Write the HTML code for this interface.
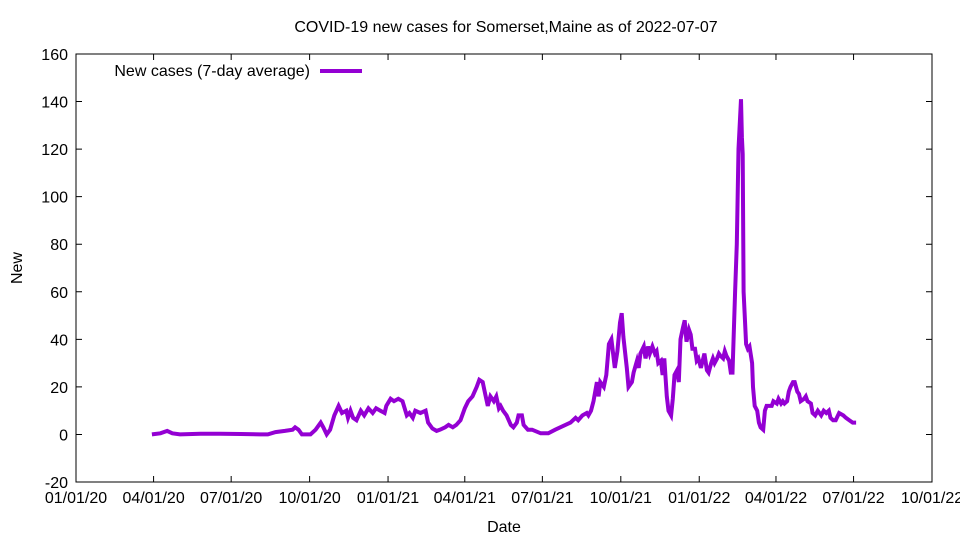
<!DOCTYPE html>
<html><head><meta charset="utf-8"><style>
body{margin:0;background:#fff}
svg{display:block;font-family:"Liberation Sans",sans-serif;font-size:16px}
</style></head><body>
<svg id="c" width="960" height="540"></svg>
<script>
const xTickLabels=["01/01/20","04/01/20","07/01/20","10/01/20","01/01/21","04/01/21","07/01/21","10/01/21","01/01/22","04/01/22","07/01/22","10/01/22"];
const xTickDays=[0,91,182,274,366,456,547,639,731,821,912,1004];
const yTicks=[-20,0,20,40,60,80,100,120,140,160];
const days=[89,99,107,113,122,146,169,193,216,225,234,245,254,257,261,265,275,281,287,290,294,298,303,308,312,317,319,322,325,329,334,338,343,348,352,357,362,364,369,373,378,383,388,391,395,398,404,410,413,418,423,427,433,437,442,446,451,456,460,465,470,473,477,480,483,486,490,493,496,498,501,505,510,513,517,519,523,525,530,535,545,554,562,568,574,580,586,589,594,599,601,604,607,611,613,615,619,622,625,628,632,635,638,640,642,646,648,652,654,658,660,662,666,668,671,673,676,679,681,683,686,688,690,693,695,698,700,702,705,707,709,712,714,716,719,721,723,726,728,730,733,735,737,740,742,745,747,749,752,754,756,759,761,763,766,768,770,773,775,777,780,781,782,783,786,788,790,793,794,796,799,801,803,806,808,810,813,816,818,822,824,827,829,831,834,836,838,841,843,846,848,850,854,856,858,862,864,867,870,874,877,880,883,885,888,891,895,900,903,907,911,915,918];
const cases=[0,0.5,1.5,0.5,0,0.3,0.3,0.2,0,0,1,1.5,2,3,2,0,0,2,5,3,0,2,8,12,9,10,7,10,7,6,10,8,11,9,11,10,9,12,15,14,15,14,8,9,7,10,9,10,5,2.5,1.5,2,3,4,3,4,6,11,14,16,20,23,22,17,12,16,14,16,11,12,10,8,4,3,5,8,8,4,2,2,0.5,0.5,2,3,4,5,7,6,8,9,8,10,14,22,16,22,20,25,38,40,28,35,47,51,41,28,20,22,26,31,28,34,37,32,37,34,37,34,35,30,31,25,32,16,10,8,15,25,27,22,40,45,48,39,44,42,36,36,31,32,28,31,34,27,26,30,32,30,32,34,33,32,35,33,31,26,26,60,80,120,141,125,118,60,38,36,37,30,20,12,10,5,3,2,10,12,12,12,14,13,15,13,14,13,14,18,20,22,22,18,17,14,15,16,14,13,9,8,10,8,10,9,10,7,6,6,9,8,7,6,5,5];
const NS="http://www.w3.org/2000/svg";
const svg=document.getElementById('c');
const L=76,R=932,T=54,B=482;
const xs=d=>L+(d/1004)*(R-L);
const ys=v=>B-(v+20)/180*(B-T);
function mk(tag,attrs,txt){const e=document.createElementNS(NS,tag);for(const k in attrs)e.setAttribute(k,attrs[k]);if(txt!=null)e.textContent=txt;svg.appendChild(e);return e;}
let e=mk('rect',{x:L,y:T,width:R-L,height:B-T,fill:'none',stroke:'#000','stroke-width':1});


yTicks.forEach(v=>{const y=ys(v);
 let t=mk('path',{d:`M${L} ${y}h6M${R} ${y}h-6`,stroke:'#000'});
 
 
 let l=mk('text',{x:L-8,y:y+6,'text-anchor':'end'},v);
 
 
});
xTickDays.forEach((d,i)=>{const x=xs(d);
 let t=mk('path',{d:`M${x} ${B}v-6M${x} ${T}v6`,stroke:'#000'});
 
 
 let l=mk('text',{x:x,y:B+21,'text-anchor':'middle'},xTickLabels[i]);
 
 
});
let p=mk('polyline',{points:days.map((d,i)=>xs(d).toFixed(1)+','+ys(cases[i]).toFixed(1)).join(' '),fill:'none',stroke:'#9400d3','stroke-width':4,'stroke-linejoin':'miter'});


let tt=mk('text',{x:506,y:32,'text-anchor':'middle'},'COVID-19 new cases for Somerset,Maine as of 2022-07-07');


let xt=mk('text',{x:504,y:532,'text-anchor':'middle'},'Date');


let yt=mk('text',{x:22,y:268,'text-anchor':'middle',transform:'rotate(-90 22 268)'},'New');


let lt=mk('text',{x:310,y:76,'text-anchor':'end'},'New cases (7-day average)');


let ll=mk('path',{d:'M320 71H362',stroke:'#9400d3','stroke-width':4});


</script>
</body></html>
